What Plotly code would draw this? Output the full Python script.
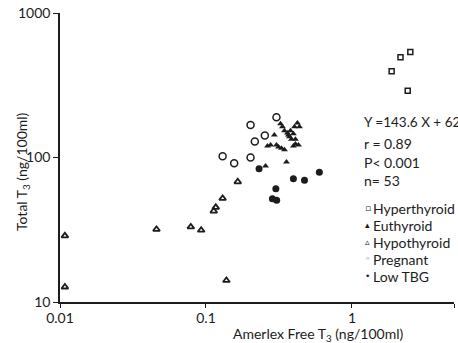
import plotly.graph_objects as go

# ---- data ----
hyper_x = [2.15, 2.51, 1.87, 2.41]
hyper_y = [495, 537, 396, 290]

eu_x = [0.324, 0.334, 0.294, 0.345, 0.361, 0.367, 0.373, 0.385, 0.423, 0.404,
        0.437, 0.397, 0.410, 0.410, 0.430, 0.397, 0.264, 0.277, 0.304, 0.314,
        0.329, 0.345, 0.356, 0.256, 0.379]
eu_y = [171, 163, 143, 153, 148, 143, 139, 134, 173, 163,
        163, 146, 134, 124, 122, 120, 120, 122, 122, 118,
        116, 113, 93.1, 87.3, 153]

hypo_x = [0.0108, 0.0108, 0.0458, 0.0787, 0.0927, 0.138, 0.113, 0.1167, 0.130, 0.165]
hypo_y = [28.7, 12.7, 31.8, 33.1, 31.4, 14.1, 42.6, 45.2, 52.1, 67.9]

preg_x = [0.304, 0.202, 0.253, 0.216, 0.130, 0.156, 0.202]
preg_y = [190, 168, 142, 129, 102, 91.2, 100]

low_x = [0.231, 0.397, 0.473, 0.598, 0.301, 0.285, 0.305]
low_y = [83.6, 71.3, 69.5, 78.9, 60.8, 51.8, 50.7]

x_ticks = [0.01, 0.1, 1, 5]
x_tick_text = ["0.01", "0.1", "1", "5"]
y_ticks = [10, 100, 1000]
y_tick_text = ["10", "100", "1000"]

stats_lines = ["Y =143.6 X + 62", "r = 0.89", "P< 0.001", "n= 53"]
legend_syms = ["▫", "▴", "▵", "◦", "•"]
legend_names = ["Hyperthyroid", "Euthyroid", "Hypothyroid", "Pregnant", "Low TBG"]

# ---- layout geometry (pixels) ----
W, H = 458, 343
ML, MR, MT, MB = 60, 4, 13, 41
PW, PH = W - ML - MR, H - MT - MB
INK = "#1c1c1c"
FONT = "Lato"


def px(xp):
    return (xp - ML) / PW


def py(yp):
    return (H - MB - yp) / PH


fig = go.Figure()
fig.add_trace(go.Scatter(x=hyper_x, y=hyper_y, mode="markers", name="Hyperthyroid",
                         marker=dict(symbol="square-open", size=5, color=INK, line=dict(width=1.5))))
fig.add_trace(go.Scatter(x=eu_x, y=eu_y, mode="markers", name="Euthyroid",
                         marker=dict(symbol="triangle-up", size=6, color=INK)))
fig.add_trace(go.Scatter(x=hypo_x, y=hypo_y, mode="markers", name="Hypothyroid",
                         marker=dict(symbol="triangle-up-open", size=6, color=INK, line=dict(width=1.8))))
fig.add_trace(go.Scatter(x=preg_x, y=preg_y, mode="markers", name="Pregnant",
                         marker=dict(symbol="circle-open", size=7, color=INK, line=dict(width=1.5))))
fig.add_trace(go.Scatter(x=low_x, y=low_y, mode="markers", name="Low TBG",
                         marker=dict(symbol="circle", size=7, color=INK)))

ann = []
# "less than" arrows for the two hypothyroid points on the y axis
for xv, yv in zip(hypo_x, hypo_y):
    if xv < 0.011:
        ann.append(dict(x=px(56), y=yv, xref="paper", yref="y", text="", showarrow=True,
                        ax=6, ay=0, arrowhead=2, arrowsize=0.6, arrowwidth=1, arrowcolor=INK))

# axis titles
ann.append(dict(x=px(22), y=py(172), xref="paper", yref="paper", showarrow=False,
                xanchor="center", yanchor="middle",
                text="Total T<sub>3</sub> (ng/100ml)", textangle=-90,
                font=dict(family=FONT, size=14, color=INK)))
ann.append(dict(x=px(318), y=py(334), xref="paper", yref="paper", showarrow=False,
                xanchor="center", yanchor="middle",
                text="Amerlex Free T<sub>3</sub> (ng/100ml)",
                font=dict(family=FONT, size=14, color=INK)))

# statistics text
stats_y = [122, 143, 162, 180]
stats_size = [13.5, 14, 14, 14]
for t, yp, fs in zip(stats_lines, stats_y, stats_size):
    ann.append(dict(x=px(362), y=py(yp), xref="paper", yref="paper", showarrow=False,
                    xanchor="left", yanchor="middle", text=t,
                    font=dict(family=FONT, size=fs, color=INK)))

# legend text
leg_y = [208, 225, 242, 259, 276]
for s, n, yp in zip(legend_syms, legend_names, leg_y):
    ann.append(dict(x=px(363), y=py(yp), xref="paper", yref="paper", showarrow=False,
                    xanchor="left", yanchor="middle", text=s,
                    font=dict(family="DejaVu Sans", size=9, color=INK)))
    ann.append(dict(x=px(371), y=py(yp), xref="paper", yref="paper", showarrow=False,
                    xanchor="left", yanchor="middle", text=n,
                    font=dict(family=FONT, size=14, color=INK)))

fig.update_layout(
    width=W, height=H,
    margin=dict(l=ML, r=MR, t=MT, b=MB, autoexpand=False),
    paper_bgcolor="white", plot_bgcolor="white",
    showlegend=False,
    annotations=ann,
    font=dict(family=FONT, size=14, color=INK),
)
fig.update_xaxes(type="log", range=[-2, 0.69897], tickvals=x_ticks, ticktext=x_tick_text,
                 showgrid=False, zeroline=False, showline=True, linecolor=INK, linewidth=1.5,
                 ticks="outside", ticklen=4, tickwidth=1, tickcolor=INK, ticklabelstandoff=-2,
                 tickfont=dict(family=FONT, size=14, color=INK))
fig.update_yaxes(type="log", range=[1, 3], tickvals=y_ticks, ticktext=y_tick_text,
                 showgrid=False, zeroline=False, showline=True, linecolor=INK, linewidth=1.5,
                 ticks="outside", ticklen=5, tickwidth=1, tickcolor=INK,
                 tickfont=dict(family=FONT, size=14, color=INK))

fig.write_html("out.html")
